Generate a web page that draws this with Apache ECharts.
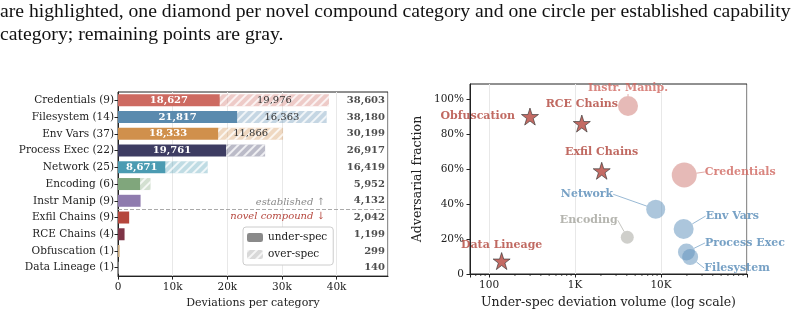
<!DOCTYPE html>
<html>
<head>
<meta charset="utf-8">
<script src="https://cdn.jsdelivr.net/npm/echarts@6/dist/echarts.min.js"></script>
<style>
  html, body { margin: 0; padding: 0; background: #fff; }
  #wrap { position: relative; width: 804px; height: 314px; overflow: hidden; }
  #chart { position: absolute; left: 0; top: 0; width: 804px; height: 314px; }
  #cap { position: absolute; left: 0; top: -1px; font-family: 'Liberation Serif', serif; font-size: 19.7px;
         line-height: 23px; color: #111; white-space: nowrap; }
</style>
</head>
<body>
<div id="wrap">
  <div id="chart"></div>
  <div id="cap">are highlighted, one diamond per novel compound category and one circle per established capability<br>category; remaining points are gray.</div>
</div>
<script>
// categories, established first then novel compound
const categories = ['Credentials', 'Filesystem', 'Env Vars', 'Process Exec', 'Network', 'Encoding',
  'Instr Manip', 'Exfil Chains', 'RCE Chains', 'Obfuscation', 'Data Lineage'];
const counts = [9, 14, 37, 22, 25, 6, 9, 9, 4, 1, 1];
const underSpec = [18627, 21817, 18333, 19761, 8671, 4050, 4132, 2042, 1199, 299, 140];
const overSpec = [19976, 16363, 11866, 7156, 7748, 1902, 0, 0, 0, 0, 0];
const totals = [38603, 38180, 30199, 26917, 16419, 5952, 4132, 2042, 1199, 299, 140];
const advFraction = [0.566, 0.097, 0.257, 0.126, 0.37, 0.21, 0.96, 0.59, 0.86, 0.90, 0.074];
const pointLabels = ['Credentials', 'Filesystem', 'Env Vars', 'Process Exec', 'Network', 'Encoding',
  'Instr. Manip.', 'Exfil Chains', 'RCE Chains', 'Obfuscation', 'Data Lineage'];
const pointSizes = [25, 16, 20, 17, 19, 13, 20, 17, 17, 17, 17];
const novelStart = 7;
const barMax = 49400;
const yPctTicks = [0, 0.2, 0.4, 0.6, 0.8, 1.0];
const logTickNames = { 100: '100', 1000: '1K', 10000: '10K' };
const logMinorTicks = [70, 80, 90, 200, 300, 400, 500, 600, 700, 800, 900,
  2000, 3000, 4000, 5000, 6000, 7000, 8000, 9000,
  20000, 30000, 40000, 50000, 60000, 70000, 80000, 90000];

const barColors = ['#cd6a61', '#5a8aae', '#d0904c', '#3d3c62', '#4b9bb2', '#80a67c', '#8f7bae',
  '#b5473d', '#7e3446', '#c9a87c', '#9a9a9a'];
const pointColors = ['#d07a74', '#5f91bb', '#5f91bb', '#5f91bb', '#5f91bb', '#a3a39c', '#d07a74',
  '#b5463d', '#b5463d', '#b5463d', '#b5463d'];
const textColors = ['#d0675f', '#5589b6', '#5589b6', '#5589b6', '#5589b6', '#a2a29b', '#d0675f',
  '#b0433a', '#b0433a', '#b0433a', '#b0433a'];
// label placement for the scatter: side + small nudge
const labelSide = ['right', 'right', 'right', 'right', 'left', 'left', 'top', 'top', 'top', 'left', 'top'];
const labelShift = [[3, -3], [1, 11], [7, -13], [5, -9], [-28, -15], [2, -17], [0, 3], [0, 1], [0, 0], [-1, 0], [0, 3]];

const SERIF = 'DejaVu Serif';
const STAR = 'path://M50,0 L61.8,35.4 L99,35.4 L69,57.3 L80.4,92.7 L50,70.8 L19.6,92.7 L31,57.3 L1,35.4 L38.2,35.4 Z';

function fade(hex, a) {
  const n = parseInt(hex.slice(1), 16);
  return 'rgba(' + (n >> 16) + ',' + ((n >> 8) & 255) + ',' + (n & 255) + ',' + a + ')';
}
function fmt(v) { return v.toLocaleString('en-US'); }

const hatch = {
  symbol: 'rect', symbolSize: 1, rotation: -Math.PI / 4,
  dashArrayX: [[1, 0]], dashArrayY: [1.2, 3.6], color: 'rgba(255,255,255,0.75)'
};

const chart = echarts.init(document.getElementById('chart'));

function pointData(from, to) {
  const out = [];
  for (let i = from; i < to; i++) {
    out.push({
      name: pointLabels[i],
      value: [underSpec[i], advFraction[i]],
      symbolSize: pointSizes[i],
      itemStyle: { color: i < novelStart ? fade(pointColors[i], 0.65) : pointColors[i] },
      label: { position: labelSide[i], color: textColors[i] },
      labelLine: { lineStyle: { color: fade(pointColors[i], 0.8) } }
    });
  }
  return out;
}

chart.setOption({
  animation: false,
  textStyle: { fontFamily: SERIF },
  grid: [
    { left: 118, top: 92, width: 270, height: 185, show: true, borderColor: '#222', borderWidth: 1 },
    { left: 470, top: 84, width: 277, height: 190, show: true, borderColor: '#222', borderWidth: 1 }
  ],
  legend: {
    data: [
      { name: 'under-spec', itemStyle: { color: '#8a8a8a' } },
      { name: 'over-spec', itemStyle: { color: 'rgba(170,170,170,0.45)', decal: hatch } }
    ],
    orient: 'vertical', left: 243, top: 227, itemWidth: 16, itemHeight: 9, itemGap: 6,
    selectedMode: false, backgroundColor: '#fff', borderColor: '#cccccc', borderWidth: 1, borderRadius: 3,
    padding: [5, 6, 5, 4],
    textStyle: { fontFamily: SERIF, fontSize: 10.5, color: '#222' }
  },
  xAxis: [
    {
      gridIndex: 0, type: 'value', min: 0, max: barMax, interval: 10000,
      name: 'Deviations per category', nameLocation: 'middle', nameGap: 21,
      nameTextStyle: { fontFamily: SERIF, fontSize: 11, color: '#222' },
      axisLine: { onZero: false, lineStyle: { color: '#222' } },
      axisTick: { show: true, length: 3.5, lineStyle: { color: '#222' } },
      axisLabel: { fontSize: 10.5, color: '#222', margin: 6, showMaxLabel: false,
        formatter: v => v === 0 ? '0' : (v / 1000) + 'k' },
      splitLine: { show: true, lineStyle: { color: '#e8e8e8' } }
    },
    {
      gridIndex: 1, type: 'log', logBase: 10, min: 60, max: 100000,
      name: 'Under-spec deviation volume (log scale)', nameLocation: 'middle', nameGap: 21,
      nameTextStyle: { fontFamily: SERIF, fontSize: 12.5, color: '#222' },
      axisLine: { onZero: false, lineStyle: { color: '#222' } },
      axisTick: { show: true, length: 3.5, lineStyle: { color: '#222' } },
      axisLabel: { fontSize: 10.5, color: '#222', margin: 6,
        formatter: v => logTickNames[Math.round(v)] || '' },
      splitLine: { show: true, lineStyle: { color: '#e8e8e8' } }
    }
  ],
  yAxis: [
    {
      gridIndex: 0, type: 'category', inverse: true,
      data: categories.map((c, i) => c + ' (' + counts[i] + ')'),
      axisLine: { onZero: false, lineStyle: { color: '#222' } },
      axisTick: { show: true, alignWithLabel: true, length: 3.5, lineStyle: { color: '#222' } },
      axisLabel: { fontSize: 10.5, color: '#222', margin: 4 }
    },
    { gridIndex: 0, type: 'value', min: -0.5, max: 10.5, inverse: true, show: false },
    {
      gridIndex: 1, type: 'value', min: 0, max: 1.086, interval: 0.2,
      name: 'Adversarial fraction', nameLocation: 'middle', nameGap: 46,
      nameTextStyle: { fontFamily: SERIF, fontSize: 12.5, color: '#222' },
      axisLine: { show: true, onZero: false, lineStyle: { color: '#222' } },
      axisTick: { show: true, length: 3.5, lineStyle: { color: '#222' } },
      axisLabel: { fontSize: 10.5, color: '#222', margin: 6, showMaxLabel: false,
        formatter: v => yPctTicks.some(t => Math.abs(t - v) < 1e-6) ? (v === 0 ? '0' : Math.round(v * 100) + '%') : '' },
      splitLine: { show: false }
    }
  ],
  series: [
    {
      name: 'under-spec', type: 'bar', xAxisIndex: 0, yAxisIndex: 0, stack: 'dev', barWidth: 12,
      data: underSpec.map((v, i) => ({
        value: v, itemStyle: { color: barColors[i] }, label: { show: v >= 8000 }
      })),
      label: { position: 'inside', color: '#fff', fontWeight: 'bold', fontSize: 10, fontFamily: SERIF,
        formatter: p => fmt(p.value) }
    },
    {
      name: 'over-spec', type: 'bar', xAxisIndex: 0, yAxisIndex: 0, stack: 'dev', barWidth: 12,
      data: overSpec.map((v, i) => ({
        value: v, itemStyle: { color: fade(barColors[i], 0.35), decal: hatch }, label: { show: v >= 10000 }
      })),
      label: { position: 'inside', color: '#333', fontSize: 10, fontFamily: SERIF,
        formatter: p => fmt(p.value) }
    },
    {
      name: 'totals', type: 'scatter', xAxisIndex: 0, yAxisIndex: 1, symbolSize: 0, silent: true,
      data: totals.map((t, i) => [barMax, i]),
      label: { show: true, position: 'left', distance: 3, color: '#222', fontWeight: 'bold', fontSize: 10,
        fontFamily: SERIF, formatter: p => fmt(totals[p.dataIndex]) }
    },
    {
      name: 'split', type: 'line', xAxisIndex: 0, yAxisIndex: 1, silent: true, data: [],
      markLine: {
        silent: true, symbol: 'none',
        lineStyle: { color: '#aaaaaa', type: 'dashed', width: 1 },
        data: [
          { yAxis: novelStart - 0.5, label: { formatter: 'established ↑', position: 'insideEndTop',
            color: '#888', fontStyle: 'italic', fontSize: 10, fontFamily: SERIF, distance: [63, 2] } },
          { yAxis: novelStart - 0.5, label: { formatter: 'novel compound ↓', position: 'insideEndBottom',
            color: '#b5463d', fontStyle: 'italic', fontSize: 10, fontFamily: SERIF, distance: [63, 2] } }
        ]
      }
    },
    {
      // log-axis minor ticks (2..9 per decade)
      name: 'minor', type: 'custom', xAxisIndex: 1, yAxisIndex: 2, silent: true, clip: false,
      data: logMinorTicks.map(v => [v, 0]),
      renderItem: (params, api) => {
        const p = api.coord([api.value(0), 0]);
        return { type: 'line', shape: { x1: p[0], y1: p[1], x2: p[0], y2: p[1] + 2 },
          style: { stroke: '#222', lineWidth: 0.8 } };
      }
    },
    {
      name: 'established', type: 'scatter', xAxisIndex: 1, yAxisIndex: 2, symbol: 'circle',
      data: pointData(0, novelStart),
      label: { show: true, fontWeight: 'bold', fontSize: 11, fontFamily: SERIF, distance: 5,
        formatter: p => p.name },
      labelLine: { show: true, lineStyle: { width: 0.8 } },
      labelLayout: p => ({ dx: labelShift[p.dataIndex][0], dy: labelShift[p.dataIndex][1] })
    },
    {
      name: 'novel', type: 'scatter', xAxisIndex: 1, yAxisIndex: 2, symbol: STAR,
      data: pointData(novelStart, categories.length),
      itemStyle: { borderColor: '#333', borderWidth: 0.8 },
      label: { show: true, fontWeight: 'bold', fontSize: 11, fontFamily: SERIF, distance: 5,
        formatter: p => p.name },
      labelLine: { show: false },
      labelLayout: p => ({ dx: labelShift[novelStart + p.dataIndex][0], dy: labelShift[novelStart + p.dataIndex][1] })
    }
  ]
});
</script>
</body>
</html>
